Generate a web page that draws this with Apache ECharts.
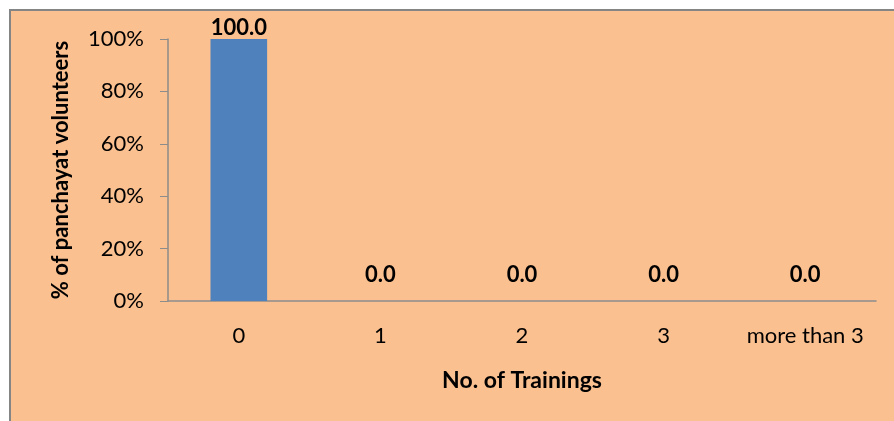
<!DOCTYPE html>
<html>
<head>
<meta charset="utf-8">
<script src="https://cdn.jsdelivr.net/npm/echarts@6/dist/echarts.min.js"></script>
<style>
  html, body { margin: 0; padding: 0; background: #fff; }
  #chart { width: 894px; height: 421px; }
</style>
</head>
<body>
<div id="chart"></div>
<script>
// data
const categories = ['0', '1', '2', '3', 'more than 3']
const values = [100.0, 0.0, 0.0, 0.0, 0.0]
const yTicks = [0, 20, 40, 60, 80, 100]

const font = 'Lato, "Open Sans", sans-serif'

const chart = echarts.init(document.getElementById('chart'))

chart.setOption({
  backgroundColor: 'transparent',
  animation: false,
  graphic: [{
    type: 'rect',
    z: -10,
    silent: true,
    shape: { x: 10, y: 10, width: 900, height: 420 },
    style: { fill: '#FAC090', stroke: '#858585', lineWidth: 2 }
  }],
  grid: { left: 168, right: 18, top: 39, bottom: 120 },
  xAxis: {
    type: 'category',
    data: categories,
    name: 'No. of Trainings',
    nameLocation: 'middle',
    nameGap: 68,
    nameTextStyle: { fontFamily: font, fontWeight: 'bold', fontSize: 23, color: '#000' },
    axisLine: { lineStyle: { color: '#8c8c8c', width: 1.5 } },
    axisTick: { alignWithLabel: true, length: 6, lineStyle: { color: '#8c8c8c' } },
    axisLabel: { interval: 0, hideOverlap: false, fontFamily: font, fontSize: 22, color: '#000', margin: 24 }
  },
  yAxis: {
    type: 'value',
    min: yTicks[0],
    max: yTicks[yTicks.length - 1],
    interval: yTicks[1] - yTicks[0],
    name: '% of panchayat volunteers',
    nameLocation: 'middle',
    nameGap: 96,
    nameTextStyle: { fontFamily: font, fontWeight: 'bold', fontSize: 22, color: '#000' },
    axisLine: { show: true, lineStyle: { color: '#8c8c8c', width: 1.5 } },
    axisTick: { show: true, length: 8, lineStyle: { color: '#8c8c8c' } },
    splitLine: { show: false },
    axisLabel: { fontFamily: font, fontSize: 22, color: '#000', margin: 24, formatter: '{value}%' }
  },
  series: [{
    type: 'bar',
    barWidth: '40%',
    itemStyle: { color: '#4F81BD' },
    data: values.map(v => ({
      value: v,
      label: { distance: v === 0 ? 15 : 0 }
    })),
    label: {
      show: true,
      position: 'top',
      fontFamily: font,
      fontWeight: 'bold',
      fontSize: 22,
      color: '#000',
      formatter: p => p.value.toFixed(1)
    }
  }]
})
</script>
</body>
</html>
